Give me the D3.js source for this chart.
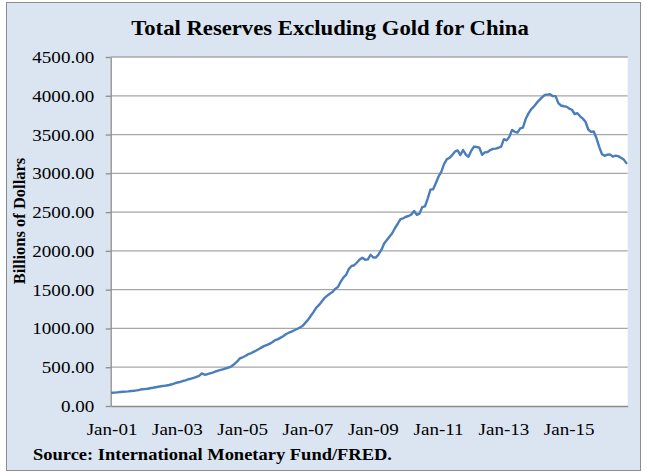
<!DOCTYPE html>
<html>
<head>
<meta charset="utf-8">
<script src="https://cdn.jsdelivr.net/npm/d3@7"></script>
<style>
  html, body { margin: 0; padding: 0; background: #ffffff; }
  svg { display: block; }
  text { font-family: "Liberation Serif", "Times New Roman", serif; fill: #000; }
</style>
</head>
<body>
<svg id="chart" width="647" height="472"></svg>
<script>
// ---- Data (billions of US dollars, monthly, Jan 2001 - Oct 2016) ----
const startYear = 2001;
const values2001 = [170, 172, 176, 180, 183, 186, 189, 193, 196, 201, 207, 216];
const values2002 = [219, 223, 229, 235, 242, 248, 254, 259, 264, 271, 280, 291];
const values2003 = [303, 310, 322, 330, 345, 352, 362, 375, 388, 421, 403, 410];
const values2004 = [420, 430, 445, 455, 465, 475, 487, 497, 515, 542, 574, 615];
const values2005 = [628, 645, 668, 680, 698, 716, 736, 756, 775, 788, 803, 825];
const values2006 = [850, 862, 882, 902, 928, 945, 960, 977, 993, 1012, 1032, 1072];
const values2007 = [1110, 1160, 1210, 1265, 1300, 1345, 1390, 1420, 1448, 1470, 1510, 1535];
const values2008 = [1600, 1655, 1690, 1765, 1805, 1815, 1850, 1890, 1912, 1885, 1890, 1950];
const values2009 = [1915, 1915, 1958, 2015, 2095, 2140, 2185, 2230, 2295, 2350, 2410, 2420];
const values2010 = [2440, 2450, 2470, 2515, 2465, 2480, 2565, 2575, 2675, 2790, 2795, 2875];
const values2011 = [2960, 3020, 3120, 3180, 3200, 3235, 3280, 3295, 3236, 3301, 3240, 3215];
const values2012 = [3290, 3345, 3340, 3330, 3238, 3270, 3275, 3300, 3315, 3318, 3330, 3345];
const values2013 = [3440, 3425, 3470, 3560, 3535, 3525, 3580, 3590, 3700, 3770, 3825, 3860];
const values2014 = [3905, 3945, 3980, 4010, 4015, 4020, 3995, 3995, 3905, 3875, 3865, 3860];
const values2015 = [3835, 3820, 3765, 3775, 3735, 3705, 3665, 3565, 3535, 3540, 3455, 3345];
const values2016 = [3250, 3225, 3240, 3245, 3215, 3228, 3222, 3200, 3180, 3132];

const reserves = [].concat(values2001, values2002, values2003, values2004, values2005,
  values2006, values2007, values2008, values2009, values2010, values2011, values2012,
  values2013, values2014, values2015, values2016);

const yTicks = [0, 500, 1000, 1500, 2000, 2500, 3000, 3500, 4000, 4500];
const xTickLabels = ["Jan-01", "Jan-03", "Jan-05", "Jan-07", "Jan-09", "Jan-11", "Jan-13", "Jan-15"];

const titleText = "Total Reserves Excluding Gold for China";
const yAxisTitle = "Billions of Dollars";
const sourceText = "Source: International Monetary Fund/FRED.";

// categories: month labels
const fmt = d3.timeFormat("%b-%y");
const months = reserves.map((_, i) => new Date(startYear, i, 1));
const categories = months.map(d => fmt(d));

// ---- Layout ----
const plot = { left: 110.7, right: 627.7, top: 57, bottom: 406 };

const svg = d3.select("#chart");

// outer frame
svg.append("rect")
  .attr("x", 6.5).attr("y", 2.5).attr("width", 634).attr("height", 468)
  .attr("fill", "#dbe5f1").attr("stroke", "#8c8c8c").attr("stroke-width", 1);

// plot area
svg.append("rect")
  .attr("x", plot.left).attr("y", plot.top)
  .attr("width", plot.right - plot.left).attr("height", plot.bottom - plot.top)
  .attr("fill", "#ffffff");

const x = d3.scaleBand().domain(categories).range([plot.left, plot.right]).paddingInner(0).paddingOuter(0);
const y = d3.scaleLinear().domain([0, 4500]).range([plot.bottom, plot.top]);

// gridlines
svg.append("g")
  .selectAll("line")
  .data(yTicks.filter(t => t > 0))
  .join("line")
  .attr("x1", plot.left).attr("x2", plot.right)
  .attr("y1", d => y(d)).attr("y2", d => y(d))
  .attr("stroke", "#a6a6a6").attr("stroke-width", 1.3);

// y axis
const yAxis = svg.append("g")
  .attr("transform", `translate(${plot.left},0)`)
  .call(d3.axisLeft(y).tickValues(yTicks).tickFormat(d3.format(".2f")).tickSizeInner(5).tickSizeOuter(0).tickPadding(11.5));
yAxis.select(".domain").attr("stroke", "#8c8c8c").attr("stroke-width", 1.3);
yAxis.selectAll(".tick line").attr("stroke", "#8c8c8c").attr("stroke-width", 1.3);
yAxis.selectAll(".tick text").attr("class", "stretch").attr("data-s", 1.12)
  .style("font-family", "'Liberation Serif', 'Times New Roman', serif").style("font-size", "17px").attr("fill", "#000");

// x axis
const xAxis = svg.append("g")
  .attr("transform", `translate(0,${plot.bottom})`)
  .call(d3.axisBottom(x).tickValues(xTickLabels).tickSize(0).tickPadding(16.5));
xAxis.select(".domain").attr("stroke", "#8c8c8c").attr("stroke-width", 1.3);
xAxis.selectAll(".tick text").attr("class", "stretch").attr("data-s", 1.12)
  .style("font-family", "'Liberation Serif', 'Times New Roman', serif").style("font-size", "17px").attr("fill", "#000");

// line
const line = d3.line()
  .x((d, i) => x(categories[i]) + x.bandwidth() / 2)
  .y(d => y(d));
svg.append("path")
  .datum(reserves)
  .attr("d", line)
  .attr("fill", "none")
  .attr("stroke", "#4a7ebb")
  .attr("stroke-width", 2.4)
  .attr("stroke-linejoin", "round")
  .attr("stroke-linecap", "round");

// title
svg.append("text")
  .attr("class", "stretch").attr("data-s", 1.08)
  .attr("x", 330).attr("y", 35)
  .attr("text-anchor", "middle")
  .style("font-size", "21px").style("font-weight", "bold")
  .text(titleText);

// y axis title
svg.append("text")
  .attr("transform", "translate(24.5,221) rotate(-90)")
  .attr("text-anchor", "middle")
  .style("font-size", "16.5px").style("font-weight", "bold")
  .text(yAxisTitle);

// source
svg.append("text")
  .attr("class", "stretch").attr("data-s", 1.12)
  .attr("x", 33).attr("y", 460)
  .attr("text-anchor", "start")
  .style("font-size", "16.5px").style("font-weight", "bold")
  .text(sourceText);

// horizontal stretch of text to match the reference's proportions
svg.selectAll("text.stretch").each(function () {
  const s = +this.getAttribute("data-s");
  const w = this.getComputedTextLength();
  this.setAttribute("textLength", (w * s).toFixed(2));
  this.setAttribute("lengthAdjust", "spacingAndGlyphs");
});
</script>
</body>
</html>
